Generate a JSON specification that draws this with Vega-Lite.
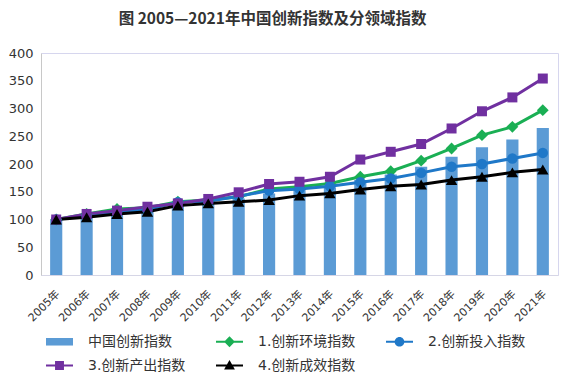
{
  "$schema": "https://vega.github.io/schema/vega-lite/v6.json",
  "width": 517,
  "height": 222,
  "autosize": {"type": "none"},
  "padding": {"left": 41, "top": 53, "right": 8, "bottom": 104},
  "background": "white",
  "title": {
    "text": "图 2005—2021年中国创新指数及分领域指数",
    "font": "Noto Sans CJK SC",
    "fontSize": 15.5,
    "fontWeight": "bold",
    "color": "#333333",
    "anchor": "middle",
    "frame": "group",
    "dx": -27,
    "offset": 20
  },
  "data": {
    "values": [
      {"year": "2005年", "series": "中国创新指数", "value": 100},
      {"year": "2006年", "series": "中国创新指数", "value": 106},
      {"year": "2007年", "series": "中国创新指数", "value": 113},
      {"year": "2008年", "series": "中国创新指数", "value": 118},
      {"year": "2009年", "series": "中国创新指数", "value": 128},
      {"year": "2010年", "series": "中国创新指数", "value": 133},
      {"year": "2011年", "series": "中国创新指数", "value": 138},
      {"year": "2012年", "series": "中国创新指数", "value": 147},
      {"year": "2013年", "series": "中国创新指数", "value": 153},
      {"year": "2014年", "series": "中国创新指数", "value": 158},
      {"year": "2015年", "series": "中国创新指数", "value": 171},
      {"year": "2016年", "series": "中国创新指数", "value": 181},
      {"year": "2017年", "series": "中国创新指数", "value": 195},
      {"year": "2018年", "series": "中国创新指数", "value": 213},
      {"year": "2019年", "series": "中国创新指数", "value": 230},
      {"year": "2020年", "series": "中国创新指数", "value": 244},
      {"year": "2021年", "series": "中国创新指数", "value": 265},
      {"year": "2005年", "series": "1.创新环境指数", "value": 100},
      {"year": "2006年", "series": "1.创新环境指数", "value": 110},
      {"year": "2007年", "series": "1.创新环境指数", "value": 119},
      {"year": "2008年", "series": "1.创新环境指数", "value": 121},
      {"year": "2009年", "series": "1.创新环境指数", "value": 132},
      {"year": "2010年", "series": "1.创新环境指数", "value": 135},
      {"year": "2011年", "series": "1.创新环境指数", "value": 141},
      {"year": "2012年", "series": "1.创新环境指数", "value": 155},
      {"year": "2013年", "series": "1.创新环境指数", "value": 159},
      {"year": "2014年", "series": "1.创新环境指数", "value": 165},
      {"year": "2015年", "series": "1.创新环境指数", "value": 177},
      {"year": "2016年", "series": "1.创新环境指数", "value": 187},
      {"year": "2017年", "series": "1.创新环境指数", "value": 206},
      {"year": "2018年", "series": "1.创新环境指数", "value": 228},
      {"year": "2019年", "series": "1.创新环境指数", "value": 252},
      {"year": "2020年", "series": "1.创新环境指数", "value": 267},
      {"year": "2021年", "series": "1.创新环境指数", "value": 297},
      {"year": "2005年", "series": "2.创新投入指数", "value": 100},
      {"year": "2006年", "series": "2.创新投入指数", "value": 107},
      {"year": "2007年", "series": "2.创新投入指数", "value": 113},
      {"year": "2008年", "series": "2.创新投入指数", "value": 118},
      {"year": "2009年", "series": "2.创新投入指数", "value": 131},
      {"year": "2010年", "series": "2.创新投入指数", "value": 133},
      {"year": "2011年", "series": "2.创新投入指数", "value": 142},
      {"year": "2012年", "series": "2.创新投入指数", "value": 152},
      {"year": "2013年", "series": "2.创新投入指数", "value": 155},
      {"year": "2014年", "series": "2.创新投入指数", "value": 160},
      {"year": "2015年", "series": "2.创新投入指数", "value": 167},
      {"year": "2016年", "series": "2.创新投入指数", "value": 174},
      {"year": "2017年", "series": "2.创新投入指数", "value": 184},
      {"year": "2018年", "series": "2.创新投入指数", "value": 195},
      {"year": "2019年", "series": "2.创新投入指数", "value": 200},
      {"year": "2020年", "series": "2.创新投入指数", "value": 210},
      {"year": "2021年", "series": "2.创新投入指数", "value": 220},
      {"year": "2005年", "series": "3.创新产出指数", "value": 100},
      {"year": "2006年", "series": "3.创新产出指数", "value": 110},
      {"year": "2007年", "series": "3.创新产出指数", "value": 116},
      {"year": "2008年", "series": "3.创新产出指数", "value": 123},
      {"year": "2009年", "series": "3.创新产出指数", "value": 129},
      {"year": "2010年", "series": "3.创新产出指数", "value": 137},
      {"year": "2011年", "series": "3.创新产出指数", "value": 149},
      {"year": "2012年", "series": "3.创新产出指数", "value": 164},
      {"year": "2013年", "series": "3.创新产出指数", "value": 168},
      {"year": "2014年", "series": "3.创新产出指数", "value": 177},
      {"year": "2015年", "series": "3.创新产出指数", "value": 208},
      {"year": "2016年", "series": "3.创新产出指数", "value": 222},
      {"year": "2017年", "series": "3.创新产出指数", "value": 236},
      {"year": "2018年", "series": "3.创新产出指数", "value": 264},
      {"year": "2019年", "series": "3.创新产出指数", "value": 295},
      {"year": "2020年", "series": "3.创新产出指数", "value": 320},
      {"year": "2021年", "series": "3.创新产出指数", "value": 354},
      {"year": "2005年", "series": "4.创新成效指数", "value": 100},
      {"year": "2006年", "series": "4.创新成效指数", "value": 104},
      {"year": "2007年", "series": "4.创新成效指数", "value": 110},
      {"year": "2008年", "series": "4.创新成效指数", "value": 114},
      {"year": "2009年", "series": "4.创新成效指数", "value": 125},
      {"year": "2010年", "series": "4.创新成效指数", "value": 129},
      {"year": "2011年", "series": "4.创新成效指数", "value": 132},
      {"year": "2012年", "series": "4.创新成效指数", "value": 135},
      {"year": "2013年", "series": "4.创新成效指数", "value": 143},
      {"year": "2014年", "series": "4.创新成效指数", "value": 147},
      {"year": "2015年", "series": "4.创新成效指数", "value": 154},
      {"year": "2016年", "series": "4.创新成效指数", "value": 160},
      {"year": "2017年", "series": "4.创新成效指数", "value": 163},
      {"year": "2018年", "series": "4.创新成效指数", "value": 171},
      {"year": "2019年", "series": "4.创新成效指数", "value": 177},
      {"year": "2020年", "series": "4.创新成效指数", "value": 185},
      {"year": "2021年", "series": "4.创新成效指数", "value": 190}
    ]
  },
  "encoding": {
    "x": {
      "field": "year",
      "type": "nominal",
      "sort": null,
      "scale": {"paddingInner": 0.6, "paddingOuter": 0.3},
      "axis": {
        "title": null,
        "labelAngle": -45,
        "labelAlign": "right",
        "labelBaseline": "middle",
        "labelPadding": 17,
        "labelOffset": 2,
        "labelFont": "DejaVu Sans, Noto Sans CJK SC",
        "labelFontSize": 11,
        "labelColor": "#333333",
        "ticks": false,
        "domainColor": "#d6d6e6",
        "grid": false
      }
    },
    "y": {
      "field": "value",
      "type": "quantitative",
      "scale": {"domain": [0, 400], "nice": false},
      "axis": {
        "title": null,
        "values": [0, 50, 100, 150, 200, 250, 300, 350, 400],
        "labelFont": "DejaVu Sans",
        "labelFontSize": 13,
        "labelColor": "#333333",
        "labelPadding": 8,
        "ticks": false,
        "grid": false,
        "domainColor": "#c8c8c8"
      }
    },
    "color": {
      "field": "series",
      "type": "nominal",
      "scale": {
        "domain": ["中国创新指数", "1.创新环境指数", "2.创新投入指数", "3.创新产出指数", "4.创新成效指数"],
        "range": ["#5b9bd5", "#1aaf54", "#1f78c8", "#7030a0", "#000000"]
      },
      "legend": {
        "title": null,
        "orient": "none",
        "legendX": 5,
        "legendY": 275,
        "direction": "horizontal",
        "columns": 3,
        "columnPadding": 30,
        "rowPadding": 3,
        "symbolSize": 729,
        "symbolStrokeWidth": 0,
        "symbolOpacity": 1,
        "labelOffset": 15,
        "labelFont": "DejaVu Sans, Noto Sans CJK SC",
        "labelFontSize": 14,
        "labelColor": "#333333",
        "labelLimit": 300
      }
    }
  },
  "layer": [
    {
      "transform": [{"filter": "datum.series === '中国创新指数'"}],
      "mark": {"type": "bar"}
    },
    {
      "transform": [{"filter": "datum.series !== '中国创新指数'"}],
      "mark": {"type": "line", "strokeWidth": 3}
    },
    {
      "transform": [{"filter": "datum.series === '1.创新环境指数'"}],
      "mark": {"type": "point", "shape": "diamond", "filled": true, "size": 140, "opacity": 1}
    },
    {
      "transform": [{"filter": "datum.series === '2.创新投入指数'"}],
      "mark": {"type": "point", "shape": "circle", "filled": true, "size": 110, "opacity": 1}
    },
    {
      "transform": [{"filter": "datum.series === '3.创新产出指数'"}],
      "mark": {"type": "point", "shape": "square", "filled": true, "size": 100, "opacity": 1}
    },
    {
      "transform": [{"filter": "datum.series === '4.创新成效指数'"}],
      "mark": {"type": "point", "shape": "triangle-up", "filled": true, "size": 130, "opacity": 1}
    },
    {
      "mark": {"type": "point", "filled": true, "size": 729, "opacity": 0},
      "encoding": {
        "shape": {
          "field": "series",
          "type": "nominal",
          "scale": {
            "domain": ["中国创新指数", "1.创新环境指数", "2.创新投入指数", "3.创新产出指数", "4.创新成效指数"],
            "range": [
              "M-1,-0.28H1V0.28H-1Z",
              "M-1,-0.07H1V0.07H-1Z M0,-0.4L0.4,0L0,0.4L-0.4,0Z",
              "M-1,-0.07H1V0.07H-1Z M-0.36,0A0.36,0.36,0,1,1,0.36,0A0.36,0.36,0,1,1,-0.36,0Z",
              "M-1,-0.07H1V0.07H-1Z M-0.33,-0.33H0.33V0.33H-0.33Z",
              "M-1,-0.07H1V0.07H-1Z M0,-0.4L0.4,0.3L-0.4,0.3Z"
            ]
          },
          "legend": {
            "title": null,
            "orient": "none",
            "legendX": 5,
            "legendY": 275,
            "direction": "horizontal",
            "columns": 3,
            "columnPadding": 30,
            "rowPadding": 3,
            "symbolSize": 729,
            "symbolStrokeWidth": 0,
            "symbolOpacity": 1,
            "labelOffset": 15,
            "labelFont": "DejaVu Sans, Noto Sans CJK SC",
            "labelFontSize": 14,
            "labelColor": "#333333",
            "labelLimit": 300,
            "encode": {"symbols": {"update": {"opacity": {"value": 1}, "fillOpacity": {"value": 1}}}}
          }
        }
      }
    }
  ],
  "config": {
    "view": {"stroke": "#d6d6ee", "strokeWidth": 1}
  }
}
